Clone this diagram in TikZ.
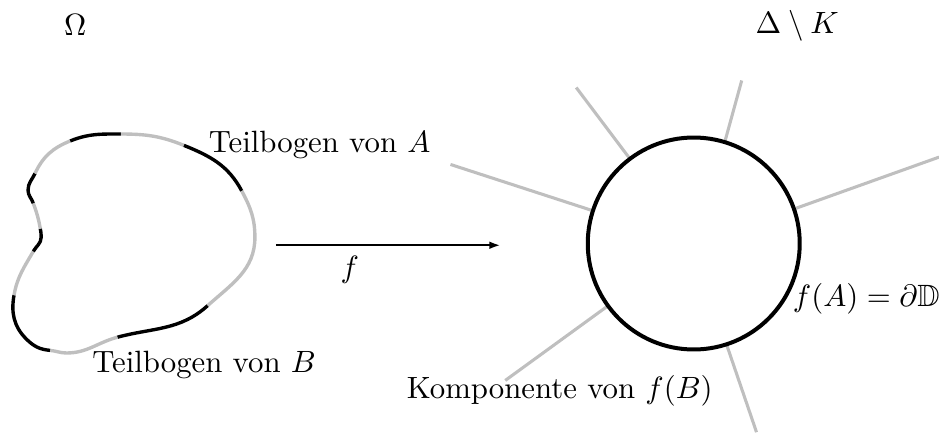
\documentclass[tikz,border=0pt]{standalone}
\usepackage{amsmath}
\usepackage{amssymb}
\usepackage{tikz}
\usetikzlibrary{arrows.meta, positioning, calc, backgrounds}

\begin{document}
\begin{tikzpicture}[
  bogenA/.style={draw=black, line width=1.1pt},
  bogenB/.style={draw=black!25, line width=1.1pt},
  rand/.style={draw, circle, line width=1.3pt, minimum size=2.42cm, inner sep=0pt, outer sep=0pt},
  komp/.style={draw=black!25, line width=1pt},
  pfeil/.style={-{Latex[length=3.5pt, width=2.5pt]}, semithick}
]
\useasboundingbox (0,0) rectangle (10.72,4.97);

% Gebiet Omega
\coordinate (p0) at (0.80,3.36);
\coordinate (p1) at (1.38,3.44);
\coordinate (p2) at (2.10,3.31);
\coordinate (p3) at (2.76,2.79);
\coordinate (r) at (2.91,2.26);
\coordinate (p4) at (2.37,1.48);
\coordinate (p5) at (1.34,1.12);
\coordinate (u) at (0.76,0.94);
\coordinate (p6) at (0.57,0.97);
\coordinate (ul) at (0.30,1.10);
\coordinate (p7) at (0.16,1.60);
\coordinate (p8) at (0.38,2.10);
\coordinate (d) at (0.47,2.26);
\coordinate (p9) at (0.46,2.36);
\coordinate (p10) at (0.38,2.65);
\coordinate (l) at (0.32,2.80);
\coordinate (p11) at (0.40,2.99);

\draw[bogenA] (p0) to[out=22, in=180] (p1);
\draw[bogenB] (p1) to[out=0, in=158] (p2);
\draw[bogenA] (p2) to[out=-22, in=118] (p3);
\draw[bogenB] (p3) to[out=-62, in=90] (r) to[out=-90, in=42] (p4);
\draw[bogenA] (p4) to[out=-138, in=15] (p5);
\draw[bogenB] (p5) to[out=195, in=0] (u) to[out=180, in=-5] (p6);
\draw[bogenA] (p6) to[out=175, in=-45] (ul) to[out=135, in=-100] (p7);
\draw[bogenB] (p7) to[out=80, in=-120] (p8);
\draw[bogenA] (p8) to[out=60, in=-92] (d) to[out=88, in=-80] (p9);
\draw[bogenB] (p9) to[out=100, in=-70] (p10);
\draw[bogenA] (p10) to[out=110, in=-90] (l) to[out=90, in=-115] (p11);
\draw[bogenB] (p11) to[out=65, in=-158] (p0);

% Abbildung
\coordinate (a1) at (3.15,2.17);
\coordinate (a2) at (5.71,2.17);
\draw[pfeil] (a1) -- node[below, pos=0.33] (fl) {$f$} (a2);

% Kreisscheibe mit Komponenten
\coordinate (m) at (7.92,2.19);
\node[rand] (kreis) at (m) {};
\coordinate (k1) at ($(m)+(162:2.92)$);
\coordinate (k2) at ($(m)+(127:2.23)$);
\coordinate (k3) at ($(m)+(73.6:1.94)$);
\coordinate (k4) at ($(m)+(19.4:2.97)$);
\coordinate (k5) at ($(m)+(216:2.66)$);
\coordinate (k6) at ($(m)+(288.4:2.27)$);
\begin{scope}[on background layer]
\draw[komp] (kreis.162) -- (k1);
\draw[komp] (kreis.127) -- (k2);
\draw[komp] (kreis.73.6) -- (k3);
\draw[komp] (kreis.19.4) -- (k4);
\draw[komp] (kreis.216) -- (k5);
\draw[komp] (kreis.288.4) -- (k6);
\end{scope}

% Beschriftungen
\node (omega) at (0.86,4.68) {$\Omega$};
\node (dk) at (9.10,4.68) {$\Delta\setminus K$};
\node (ta) at (3.65,3.32) {Teilbogen von $A$};
\node (tb) at (2.33,0.80) {Teilbogen von $B$};
\node (tk) at (6.39,0.51) {Komponente von $f(B)$};
\node (tr) at (9.89,1.56) {$f(A)=\partial\mathbb{D}$};

\end{tikzpicture}
\end{document}
